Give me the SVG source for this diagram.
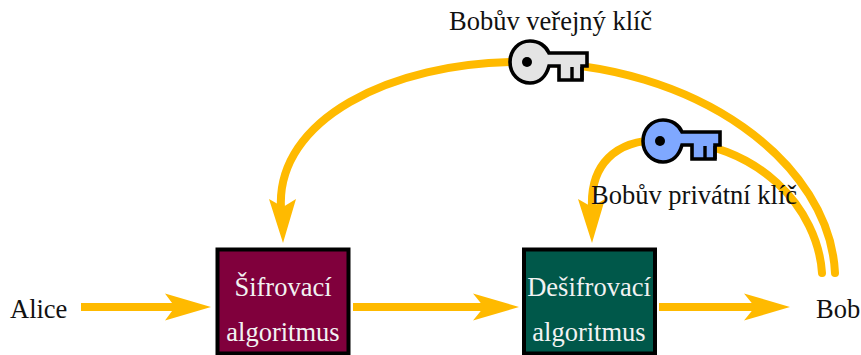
<svg xmlns="http://www.w3.org/2000/svg" width="861" height="355" viewBox="0 0 861 355">
<style>
text{font-family:"Liberation Serif","Times New Roman",serif;font-size:26.500px;fill:#111}
.w{fill:#f2f2f2;text-anchor:middle}
.c{fill:none;stroke:#ffba00;stroke-width:8}
.r{stroke-linecap:round}
.h{fill:#ffba00}
.b{stroke:#000;stroke-width:4}
.k{stroke:#000;stroke-width:3.6;stroke-linejoin:miter}
</style>
<defs>
<g id="key">
<path class="k" d="M0 0C-11 0-20-9-20-21C-20-33-11-42 0-42C9-42 16-37 19-30H57V-17H52V-3H29V-17H19C16-6 9 0 0 0Z" transform="translate(20 42)"/>
<circle cx="17" cy="21" r="5" fill="#000"/>
<path d="M62 26V39M72 26V39" stroke="#000" stroke-width="3.4" fill="none"/>
</g>
</defs>
<g id="connectors">
<path class="c r" d="M835 273C830 165 700 62 520 62C390 62 276 120 281 208"/>
<path class="c r" d="M822 273C818 210 760 140 660 140C615 140 590 165 592 208"/>
<path class="h" d="M283 243L269 199L283 207L296 199Z"/>
<path class="h" d="M592 243L578 199L592 207L605 199Z"/>
<path class="c" d="M81 307H176"/><path class="h" d="M211 307L165 293.500L175 307L165 320.500Z"/>
<path class="c" d="M353 307H485"/><path class="h" d="M519 307L473 293.500L484 307L473 320.500Z"/>
<path class="c" d="M659 307H756"/><path class="h" d="M790 307L744 293.500L755 307L744 320.500Z"/>
</g>
<g id="alice"><text x="10" y="318">Alice</text></g>
<g id="bob"><text x="816" y="318">Bob</text></g>
<g id="sifrovaci"><rect class="b" x="217.500" y="249.500" width="131" height="104" fill="#80003c"/>
<text class="w" x="283" y="296">Šifrovací</text><text class="w" x="283" y="341">algoritmus</text></g>
<g id="desifrovaci"><rect class="b" x="524" y="249.500" width="131" height="104" fill="#00584a"/>
<text class="w" x="589" y="296">Dešifrovací</text><text class="w" x="589" y="341">algoritmus</text></g>
<g id="public-key"><use href="#key" x="510" y="41" fill="#e4e4e4"/><text x="449" y="30">Bobův veřejný klíč</text></g>
<g id="private-key"><use href="#key" x="643" y="120" fill="#7fa8ff"/><text x="591" y="204">Bobův privátní klíč</text></g>
</svg>
